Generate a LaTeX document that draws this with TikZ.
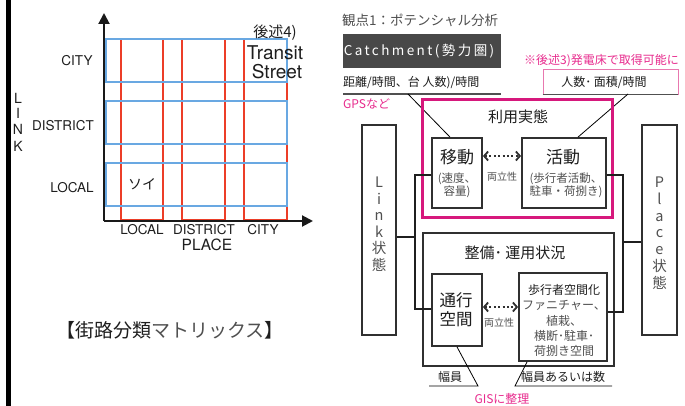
\documentclass[tikz,border=0pt]{standalone}
\usepackage{fontspec}
\setmainfont{Noto Sans CJK JP}
\newfontfamily\hel{TeX Gyre Heros}
\newfontfamily\catchfont[LetterSpace=18]{Noto Sans CJK JP}
\usetikzlibrary{arrows.meta}
\definecolor{pinkm}{RGB}{214,24,124}
\definecolor{pinkt}{RGB}{232,44,142}
\definecolor{pinkl}{RGB}{232,120,175}
\definecolor{boxc}{RGB}{48,48,48}
\definecolor{bluer}{RGB}{105,168,226}
\definecolor{redc}{RGB}{236,62,40}
\definecolor{catchc}{RGB}{72,72,72}
\definecolor{txt}{RGB}{30,30,30}
\definecolor{gtxt}{RGB}{80,80,80}
\newcommand{\fs}[2]{\fontsize{#1}{#2}\selectfont}
\begin{document}
\begin{tikzpicture}[x=1pt,y=-1pt,
  lbl/.style={inner sep=0pt,text=txt},
  boxn/.style={draw=boxc,line width=1.8pt,inner sep=0pt,rectangle},
  bus/.style={draw=black!88,line width=2.8pt},
  dotarrow/.style={draw=boxc,line width=2.6pt,line cap=butt,dash pattern=on 2pt off 2.4pt,
     {Straight Barb[length=4pt,width=9pt,line width=1.8pt]}-{Straight Barb[length=4pt,width=9pt,line width=1.8pt]}},
  thinl/.style={draw=black,line width=0.8pt},
  ulin/.style={draw=gtxt,line width=1.8pt},
  axis/.style={draw=black!90,line width=2pt,-{Triangle[length=11pt,width=11pt]}},
  rowbox/.style={draw=bluer,line width=1.6pt},
  colbox/.style={draw=redc,line width=1.3pt}]
\useasboundingbox (0,0) rectangle (685,406);
\clip (0,0) rectangle (685,406);
\fill[white] (0,0) rectangle (685,406);

% left black bar
\fill[black] (6,0) rectangle (10.5,406);

% ---------------- matrix ----------------
\draw[colbox] (121,39) rectangle (163,220);
\draw[colbox] (182,39) rectangle (225,220);
\draw[colbox] (244,39) rectangle (287,220);
\draw[rowbox] (106,39) rectangle (287,82);
\draw[rowbox] (106,101) rectangle (287,144);
\draw[rowbox] (106,163) rectangle (287,206);
\coordinate (origin) at (104,221);
\coordinate (ytip) at (104,13);
\coordinate (xtip) at (313,221);
\draw[axis] (origin) -- (ytip);
\draw[axis] (origin) -- (xtip);

\node[lbl,font=\hel\fs{13.5}{15}] (ycity) at (77,61) {CITY};
\node[lbl,font=\hel\fs{13.5}{15}] (ydist) at (63,126) {DISTRICT};
\node[lbl,font=\hel\fs{13.5}{15}] (yloc) at (72,188) {LOCAL};
\node[lbl,font=\hel\fs{14}{15}] (lL) at (18,98) {L};
\node[lbl,font=\hel\fs{14}{15}] (lI) at (18,113) {I};
\node[lbl,font=\hel\fs{14}{15}] (lN) at (18,129) {N};
\node[lbl,font=\hel\fs{14}{15}] (lK) at (18,146) {K};
\node[lbl,font=\hel\fs{13.5}{15}] (xloc) at (142,230) {LOCAL};
\node[lbl,font=\hel\fs{13.5}{15}] (xdist) at (204,230) {DISTRICT};
\node[lbl,font=\hel\fs{13.5}{15}] (xcity) at (263,230) {CITY};
\node[lbl,font=\hel\fs{15.5}{17}] (xplace) at (207,245) {PLACE};
\node[lbl,font=\fs{14}{15}] (soi) at (142,184) {ソイ};
\node[lbl,font=\fs{15}{16}] (kouj4) at (275,33) {後述4)};
\node[lbl,font=\hel\fs{19}{20}] (transit) at (275,53) {Transit};
\node[lbl,font=\hel\fs{19}{20}] (street) at (277,72) {Street};
\node[lbl,font=\fs{19}{21}] (mtitle) at (170,330) {【街路分類\textcolor{gtxt}{マトリックス}】};

% ---------------- right diagram ----------------
\node[lbl,anchor=west,font=\fs{13.5}{15},text=gtxt] (kanten) at (342,20) {観点1：ポテンシャル分析};
\node[fill=catchc,minimum width=158pt,minimum height=34pt,inner sep=0pt] (catch) at (422,51) {};
\node[lbl,text=white,font=\catchfont\fs{13.5}{15}] (catcht) at (419,51) {Catchment(勢力圏)};

\node[lbl,anchor=west,font=\fs{12}{14}] (kyori) at (343,83) {距離/時間、台 人数)/時間};
\coordinate (ulA1) at (343,94);
\coordinate (ulA2) at (501,94);
\coordinate (ulAp) at (408,94);
\draw[ulin] (ulA1) -- (ulA2);
\node[lbl,anchor=west,font=\fs{12}{14},text=pinkt] (gps) at (343,104) {GPSなど};
\node[lbl,anchor=west,font=\fs{12}{14},text=pinkt] (note3) at (524,61) {※後述3)発電床で取得可能に};

\node[draw=pinkl,line width=0.9pt,minimum width=135pt,minimum height=25pt,inner sep=0pt] (ninbox) at (610.5,81.5) {};
\draw[ulin] (ninbox.south west) -- (ninbox.south east);
\node[lbl,font=\fs{12}{14}] (ninzu) at (604,83) {人数･ 面積/時間};
\coordinate (ulBp) at (628,94);

% boxes of usage
\node[boxn,minimum width=50pt,minimum height=70pt] (idou) at (457,173) {};
\node[boxn,minimum width=84pt,minimum height=70pt] (katsudo) at (564,173) {};
\draw[thinl] (ulAp) -- ([xshift=-7pt]idou.north);
\draw[thinl] (ulBp) -- ([xshift=14pt]katsudo.north);
\node[draw=pinkm,line width=3pt,minimum width=190pt,minimum height=117pt,inner sep=0pt] (riyou) at (517,158.5) {};
\node[lbl,font=\fs{15}{17}] (riyout) at (518,117) {利用実態};

\node[lbl,font=\fs{17}{19}] (idout) at (457,157) {移動};
\node[lbl,font=\fs{11.5}{13},align=center,text=gtxt] (idous) at (457,185.5) {(速度、\\容量)};
\node[lbl,font=\fs{17}{19}] (katsudot) at (563,157) {活動};
\node[lbl,font=\fs{11.5}{13},align=center,text=gtxt] (katsudos) at (566,185.5) {(歩行者活動、\\駐車・荷捌き)};
\draw[dotarrow] ([yshift=17pt]idou.east) -- ([yshift=17pt]katsudo.west);
\node[lbl,font=\fs{10}{12},text=gtxt] (ryo1) at (502,177) {両立性};

% side boxes
\node[boxn,minimum width=34pt,minimum height=210pt] (link) at (379,230) {};
\node[lbl,align=center,font=\fs{14.5}{16.5},text=gtxt] (linkt) at ([yshift=6pt]link.center) {L\\i\\n\\k\\状\\態};
\node[boxn,minimum width=35pt,minimum height=210pt] (place) at (659.5,230) {};
\node[lbl,align=center,font=\fs{14.5}{16.8},text=gtxt] (placet) at ([yshift=-3pt]place.center) {P\\l\\a\\c\\e\\状\\態};

% maintenance
\node[boxn,minimum width=191pt,minimum height=133pt] (seibi) at (518.5,299.5) {};
\node[lbl,font=\fs{15}{17}] (seibit) at (515,253) {整備･ 運用状況};
\node[boxn,minimum width=50pt,minimum height=72pt] (tsuko) at (457,310) {};
\node[lbl,font=\fs{16.5}{19},align=center] (tsukot) at (456,309.5) {通行\\空間};
\node[boxn,minimum width=88pt,minimum height=88pt] (hoko) at (563,317) {};
\node[lbl,font=\fs{12}{15.3},align=center,text=gtxt] (hokot) at (564,320.5) {\textcolor{txt}{歩行者空間化}\\ファニチャー、\\植栽、\\横断･駐車･\\荷捌き空間};
\draw[dotarrow] ([yshift=3pt]tsuko.east) -- ([yshift=10pt]hoko.west);
\node[lbl,font=\fs{10}{12},text=gtxt] (ryo2) at (499,323) {両立性};

% buses
\coordinate (busL) at (415,237);
\coordinate (busR) at (623,242);
\draw[bus] ([yshift=-2pt]idou.west) -| (busL) |- ([yshift=1pt]tsuko.west);
\draw[bus] ([yshift=-7pt]link.east) -- (busL);
\draw[bus] ([yshift=-2pt]katsudo.east) -| (busR) |- ([yshift=5pt]hoko.east);
\draw[bus] ([yshift=-12pt]place.west) -- (busR);

% widths
\coordinate (ulC1) at (429,386);
\coordinate (ulC2) at (478,386);
\coordinate (ulD1) at (515,386);
\coordinate (ulD2) at (612,386);
\draw[thinl] (tsuko.south) -- (ulC2) -- (ulC1);
\draw[thinl] ([xshift=-36pt]hoko.south) -- (ulD1) -- (ulD2);
\node[lbl,font=\fs{12}{14}] (fuku1) at (450,377) {幅員};
\node[lbl,font=\fs{12}{14}] (fuku2) at (563,377) {幅員あるいは数};
\node[lbl,font=\fs{12}{14},text=pinkt] (gis) at (502,399) {GISに整理};
\end{tikzpicture}
\end{document}
